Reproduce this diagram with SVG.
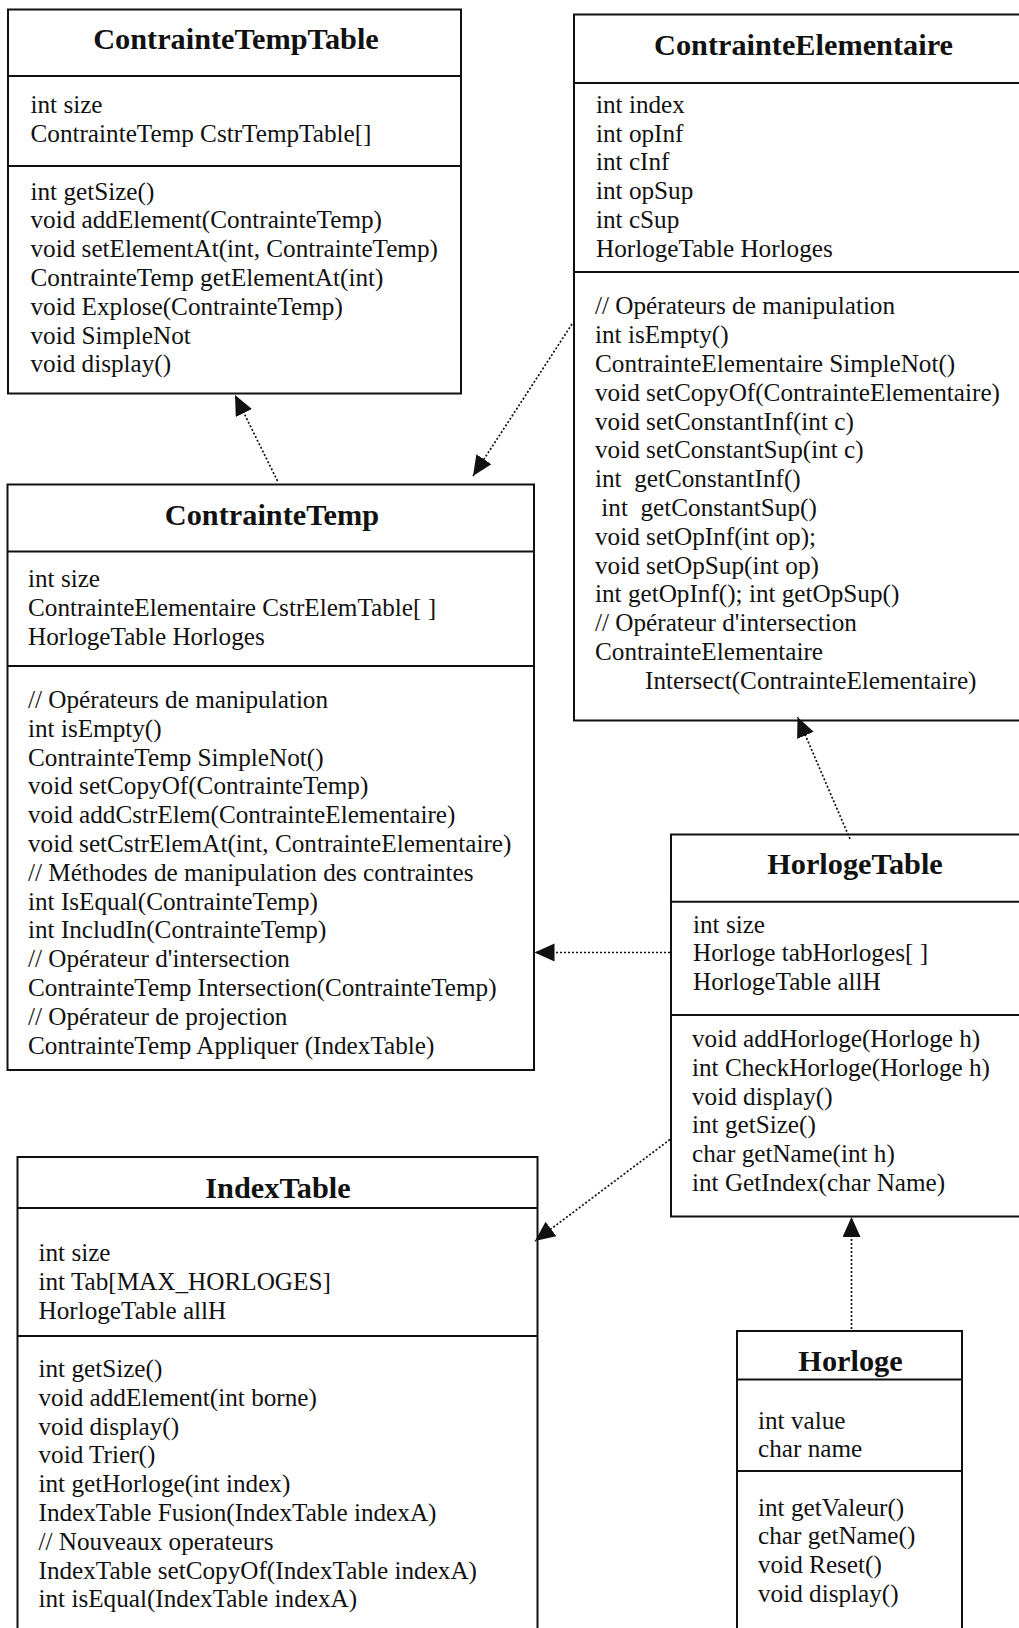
<svg xmlns="http://www.w3.org/2000/svg" width="1019" height="1628" viewBox="0 0 1019 1628">
  <style>
    .box { fill: #ffffff; stroke: #111111; stroke-width: 2; }
    .sep { stroke: #111111; stroke-width: 2; }
    .title { font-family: "Liberation Serif", "Times New Roman", serif; font-weight: bold; font-size: 30.3px; fill: #111111; text-anchor: middle; }
    .txt { font-family: "Liberation Serif", "Times New Roman", serif; font-size: 25.2px; fill: #111111; white-space: pre; }
    .dep { fill: none; stroke: #111111; stroke-width: 1.7; stroke-dasharray: 2 2; }
  </style>
  <defs>
    <marker id="arrow" markerUnits="userSpaceOnUse" markerWidth="22" markerHeight="20" refX="20" refY="9" orient="auto">
      <path d="M0,0 L20,9 L0,18 Z" fill="#111111"/>
    </marker>
  </defs>
  <rect width="1019" height="1628" fill="#ffffff"/>

  <!-- ContrainteTempTable -->
  <g id="ContrainteTempTable">
    <rect class="box" x="8" y="9.5" width="453" height="384"/>
    <line class="sep" x1="8" y1="76" x2="461" y2="76"/>
    <line class="sep" x1="8" y1="166" x2="461" y2="166"/>
    <text class="title" x="236" y="49">ContrainteTempTable</text>
    <text class="txt" x="30.5" y="112.5">int size</text>
    <text class="txt" x="30.5" y="141.5">ContrainteTemp CstrTempTable[]</text>
    <text class="txt" x="30.5" y="199.5">int getSize()</text>
    <text class="txt" x="30.5" y="228.3">void addElement(ContrainteTemp)</text>
    <text class="txt" x="30.5" y="257.1">void setElementAt(int, ContrainteTemp)</text>
    <text class="txt" x="30.5" y="285.9">ContrainteTemp getElementAt(int)</text>
    <text class="txt" x="30.5" y="314.7">void Explose(ContrainteTemp)</text>
    <text class="txt" x="30.5" y="343.5">void SimpleNot</text>
    <text class="txt" x="30.5" y="372.3">void display()</text>
  </g>

  <!-- ContrainteElementaire -->
  <g id="ContrainteElementaire">
    <rect class="box" x="574" y="14.5" width="460" height="706"/>
    <line class="sep" x1="574" y1="83" x2="1034" y2="83"/>
    <line class="sep" x1="574" y1="272" x2="1034" y2="272"/>
    <text class="title" x="803.5" y="55">ContrainteElementaire</text>
    <text class="txt" x="596" y="112.7">int index</text>
    <text class="txt" x="596" y="141.5">int opInf</text>
    <text class="txt" x="596" y="170.3">int cInf</text>
    <text class="txt" x="596" y="199.1">int opSup</text>
    <text class="txt" x="596" y="227.9">int cSup</text>
    <text class="txt" x="596" y="256.7">HorlogeTable Horloges</text>
    <text class="txt" x="595" y="314.3">// Opérateurs de manipulation</text>
    <text class="txt" x="595" y="343.1">int isEmpty()</text>
    <text class="txt" x="595" y="371.9">ContrainteElementaire SimpleNot()</text>
    <text class="txt" x="595" y="400.7">void setCopyOf(ContrainteElementaire)</text>
    <text class="txt" x="595" y="429.5">void setConstantInf(int c)</text>
    <text class="txt" x="595" y="458.3">void setConstantSup(int c)</text>
    <text class="txt" x="595" y="487.1">int  getConstantInf()</text>
    <text class="txt" x="595" y="515.9"> int  getConstantSup()</text>
    <text class="txt" x="595" y="544.7">void setOpInf(int op);</text>
    <text class="txt" x="595" y="573.5">void setOpSup(int op)</text>
    <text class="txt" x="595" y="602.3">int getOpInf(); int getOpSup()</text>
    <text class="txt" x="595" y="631.1">// Opérateur d'intersection</text>
    <text class="txt" x="595" y="659.9">ContrainteElementaire</text>
    <text class="txt" x="645" y="688.7">Intersect(ContrainteElementaire)</text>
  </g>

  <!-- ContrainteTemp -->
  <g id="ContrainteTemp">
    <rect class="box" x="7.5" y="484.5" width="526.5" height="585.5"/>
    <line class="sep" x1="7.5" y1="551.5" x2="534" y2="551.5"/>
    <line class="sep" x1="7.5" y1="666" x2="534" y2="666"/>
    <text class="title" x="272" y="525">ContrainteTemp</text>
    <text class="txt" x="28" y="587">int size</text>
    <text class="txt" x="28" y="615.8">ContrainteElementaire CstrElemTable[ ]</text>
    <text class="txt" x="28" y="644.6">HorlogeTable Horloges</text>
    <text class="txt" x="28" y="708">// Opérateurs de manipulation</text>
    <text class="txt" x="28" y="736.8">int isEmpty()</text>
    <text class="txt" x="28" y="765.6">ContrainteTemp SimpleNot()</text>
    <text class="txt" x="28" y="794.4">void setCopyOf(ContrainteTemp)</text>
    <text class="txt" x="28" y="823.2">void addCstrElem(ContrainteElementaire)</text>
    <text class="txt" x="28" y="852">void setCstrElemAt(int, ContrainteElementaire)</text>
    <text class="txt" x="28" y="880.8">// Méthodes de manipulation des contraintes</text>
    <text class="txt" x="28" y="909.6">int IsEqual(ContrainteTemp)</text>
    <text class="txt" x="28" y="938.4">int IncludIn(ContrainteTemp)</text>
    <text class="txt" x="28" y="967.2">// Opérateur d'intersection</text>
    <text class="txt" x="28" y="996">ContrainteTemp Intersection(ContrainteTemp)</text>
    <text class="txt" x="28" y="1024.8">// Opérateur de projection</text>
    <text class="txt" x="28" y="1053.6">ContrainteTemp Appliquer (IndexTable)</text>
  </g>

  <!-- HorlogeTable -->
  <g id="HorlogeTable">
    <rect class="box" x="671" y="834.5" width="370" height="382"/>
    <line class="sep" x1="671" y1="901.7" x2="1041" y2="901.7"/>
    <line class="sep" x1="671" y1="1015" x2="1041" y2="1015"/>
    <text class="title" x="855" y="874">HorlogeTable</text>
    <text class="txt" x="693" y="932.5">int size</text>
    <text class="txt" x="693" y="961.3">Horloge tabHorloges[ ]</text>
    <text class="txt" x="693" y="990.1">HorlogeTable allH</text>
    <text class="txt" x="692" y="1047">void addHorloge(Horloge h)</text>
    <text class="txt" x="692" y="1075.8">int CheckHorloge(Horloge h)</text>
    <text class="txt" x="692" y="1104.6">void display()</text>
    <text class="txt" x="692" y="1133.4">int getSize()</text>
    <text class="txt" x="692" y="1162.2">char getName(int h)</text>
    <text class="txt" x="692" y="1191">int GetIndex(char Name)</text>
  </g>

  <!-- IndexTable -->
  <g id="IndexTable">
    <rect class="box" x="17.5" y="1157" width="520" height="490"/>
    <line class="sep" x1="17.5" y1="1208" x2="537.5" y2="1208"/>
    <line class="sep" x1="17.5" y1="1336" x2="537.5" y2="1336"/>
    <text class="title" x="278" y="1198">IndexTable</text>
    <text class="txt" x="38.5" y="1261">int size</text>
    <text class="txt" x="38.5" y="1289.8">int Tab[MAX_HORLOGES]</text>
    <text class="txt" x="38.5" y="1318.6">HorlogeTable allH</text>
    <text class="txt" x="38.5" y="1377">int getSize()</text>
    <text class="txt" x="38.5" y="1405.8">void addElement(int borne)</text>
    <text class="txt" x="38.5" y="1434.6">void display()</text>
    <text class="txt" x="38.5" y="1463.4">void Trier()</text>
    <text class="txt" x="38.5" y="1492.2">int getHorloge(int index)</text>
    <text class="txt" x="38.5" y="1521">IndexTable Fusion(IndexTable indexA)</text>
    <text class="txt" x="38.5" y="1549.8">// Nouveaux operateurs</text>
    <text class="txt" x="38.5" y="1578.6">IndexTable setCopyOf(IndexTable indexA)</text>
    <text class="txt" x="38.5" y="1607.4">int isEqual(IndexTable indexA)</text>
  </g>

  <!-- Horloge -->
  <g id="Horloge">
    <rect class="box" x="737" y="1331" width="225" height="320"/>
    <line class="sep" x1="737" y1="1379.5" x2="962" y2="1379.5"/>
    <line class="sep" x1="737" y1="1471" x2="962" y2="1471"/>
    <text class="title" x="850.5" y="1370.5">Horloge</text>
    <text class="txt" x="758" y="1428.5">int value</text>
    <text class="txt" x="758" y="1457.3">char name</text>
    <text class="txt" x="758" y="1515.5">int getValeur()</text>
    <text class="txt" x="758" y="1544.3">char getName()</text>
    <text class="txt" x="758" y="1573.1">void Reset()</text>
    <text class="txt" x="758" y="1601.9">void display()</text>
  </g>

  <!-- dependency connectors -->
  <g id="connectors">
    <line class="dep" x1="277.5" y1="481" x2="235" y2="395" marker-end="url(#arrow)"/>
    <line class="dep" x1="572" y1="324" x2="473" y2="476" marker-end="url(#arrow)"/>
    <line class="dep" x1="850" y1="839" x2="797.5" y2="717" marker-end="url(#arrow)"/>
    <line class="dep" x1="670" y1="952.5" x2="534.5" y2="952.5" marker-end="url(#arrow)"/>
    <line class="dep" x1="670" y1="1139.5" x2="535" y2="1241" marker-end="url(#arrow)"/>
    <line class="dep" x1="851.5" y1="1329" x2="851.5" y2="1217" marker-end="url(#arrow)"/>
  </g>
</svg>
